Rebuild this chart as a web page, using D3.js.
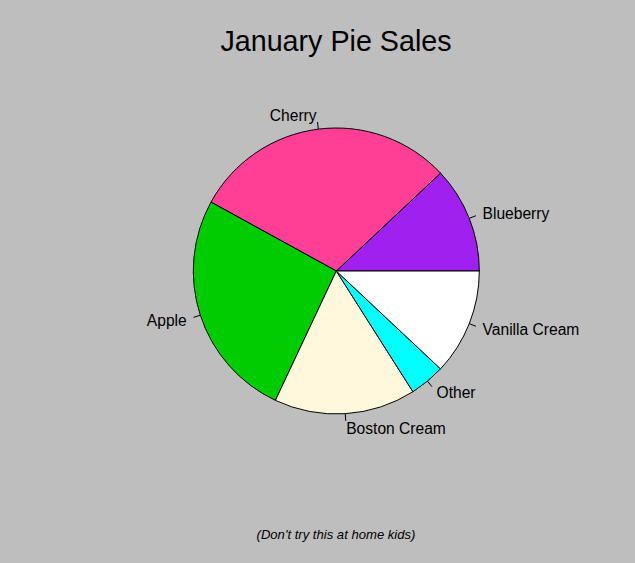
<!DOCTYPE html>
<html><head><meta charset="utf-8">
<script src="https://cdn.jsdelivr.net/npm/d3@7"></script>
<style>html,body{margin:0;padding:0;background:#BEBEBE;}</style>
</head><body>
<script>
const categories = ["Blueberry", "Cherry", "Apple", "Boston Cream", "Other", "Vanilla Cream"];
const sales = [0.12, 0.30, 0.26, 0.16, 0.04, 0.12];
const colors = ["#A020F0", "#FF3E96", "#00CD00", "#FFF8DC", "#00FFFF", "#FFFFFF"];
const title = "January Pie Sales";
const subtitle = "(Don't try this at home kids)";

const W = 635, H = 563, cx = 336.3, cy = 271, R = 143;
const svg = d3.select("body").append("svg").attr("width", W).attr("height", H)
  .style("font-family", "'Liberation Sans', Arial, sans-serif");
svg.append("rect").attr("width", W).attr("height", H).attr("fill", "#BEBEBE");

const data = categories.map((c, i) => ({name: c, value: sales[i], color: colors[i]}));
const pie = d3.pie().sort(null).value(d => d.value)
  .startAngle(Math.PI / 2).endAngle(Math.PI / 2 - 2 * Math.PI);
const arcs = pie(data);
const arc = d3.arc().innerRadius(0).outerRadius(R);
const g = svg.append("g").attr("transform", `translate(${cx},${cy})`);
g.selectAll("path.slice").data(arcs).join("path")
  .attr("class", "slice")
  .attr("d", arc)
  .attr("fill", d => d.data.color)
  .attr("stroke", "#000").attr("stroke-width", 1);

arcs.forEach(d => {
  const a = (d.startAngle + d.endAngle) / 2;
  const ux = Math.sin(a), uy = -Math.cos(a);
  g.append("line")
    .attr("x1", ux * R).attr("y1", uy * R)
    .attr("x2", ux * R * 1.05).attr("y2", uy * R * 1.05)
    .attr("stroke", "#000").attr("stroke-width", 1);
  g.append("text")
    .attr("x", ux * R * 1.1).attr("y", uy * R * 1.1)
    .attr("dy", "0.38em")
    .attr("text-anchor", ux < 0 ? "end" : "start")
    .attr("font-size", "15.6px").attr("fill", "#000")
    .text(d.data.name);
});

svg.append("text").attr("x", 336).attr("y", 51).attr("text-anchor", "middle")
  .attr("font-size", "28.7px").attr("fill", "#000").text(title);
svg.append("text").attr("x", 336).attr("y", 539).attr("text-anchor", "middle")
  .attr("font-size", "13.1px").attr("font-style", "italic").attr("fill", "#000").text(subtitle);
</script>
</body></html>
